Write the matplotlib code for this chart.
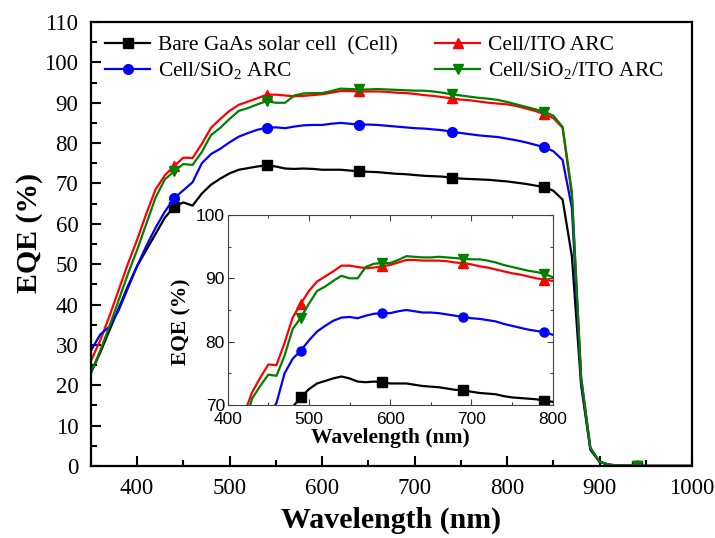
import numpy as np
import matplotlib
matplotlib.use("Agg")
from matplotlib import pyplot as plt
from matplotlib.ticker import MultipleLocator

plt.rcParams['font.family'] = ['Liberation Serif', 'DejaVu Serif']
plt.rcParams['mathtext.fontset'] = 'custom'
plt.rcParams['mathtext.rm'] = 'Liberation Serif'
plt.rcParams['mathtext.default'] = 'regular'

# Wavelength grid (nm)
wavelength = np.arange(350, 1001, 10)

# External quantum efficiency (%)
eqe_cell = [23.0, 28.0, 33.5, 39.0, 44.5, 49.5, 53.5, 57.5, 61.5, 64.2,
            65.3, 64.5, 67.5, 69.7, 71.2, 72.5, 73.4, 73.8, 74.2, 74.5,
            74.2, 73.7, 73.6, 73.7, 73.6, 73.4, 73.4, 73.4, 73.2, 73.0,
            72.9, 72.8, 72.6, 72.4, 72.3, 72.1, 71.9, 71.8, 71.7, 71.4,
            71.2, 71.1, 71.0, 70.9, 70.7, 70.5, 70.2, 69.9, 69.5, 69.1,
            68.2, 66.0, 52.0, 20.0, 4.0, 1.0, 0.3, 0.1, 0.0, 0.0,
            0.0, 0.0, 0.0, 0.0, 0.0, 0.0]
eqe_ito = [26.0, 31.0, 37.0, 43.5, 50.0, 56.0, 62.5, 68.5, 72.0, 74.3,
           76.4, 76.3, 79.8, 83.8, 86.0, 88.0, 89.5, 90.3, 91.1, 92.0,
           92.0, 91.8, 91.6, 91.7, 91.9, 92.1, 92.5, 92.9, 92.9, 92.8,
           92.8, 92.8, 92.7, 92.5, 92.4, 92.2, 91.9, 91.7, 91.4, 91.1,
           90.8, 90.6, 90.3, 90.0, 89.8, 89.6, 89.2, 88.6, 88.0, 87.2,
           86.2, 83.8, 67.0, 22.0, 4.5, 1.0, 0.3, 0.1, 0.1, 0.2,
           0.0, 0.0, 0.0, 0.0, 0.0, 0.0]
eqe_sio2 = [28.5, 32.5, 34.5, 38.5, 44.0, 49.5, 54.5, 59.0, 63.0, 66.3,
            68.3, 70.3, 75.0, 77.3, 78.6, 80.2, 81.6, 82.5, 83.3, 83.8,
            83.9, 83.7, 84.1, 84.4, 84.5, 84.5, 84.8, 85.0, 84.8, 84.6,
            84.6, 84.5, 84.3, 84.1, 83.9, 83.7, 83.6, 83.4, 83.2, 82.8,
            82.5, 82.2, 81.9, 81.7, 81.5, 81.1, 80.7, 80.2, 79.6, 79.0,
            78.0, 75.8, 64.0, 21.0, 4.3, 1.0, 0.3, 0.1, 0.0, 0.0,
            0.0, 0.0, 0.0, 0.0, 0.0, 0.0]
eqe_sio2_ito = [23.0, 28.5, 34.5, 41.0, 47.5, 53.5, 60.0, 66.5, 71.0, 73.0,
                74.8, 74.6, 77.8, 82.0, 83.8, 86.0, 88.0, 88.7, 89.6, 90.4,
                90.0, 90.0, 91.8, 92.3, 92.4, 92.4, 92.9, 93.5, 93.4, 93.3,
                93.3, 93.4, 93.3, 93.2, 93.1, 93.0, 93.0, 92.8, 92.5, 92.1,
                91.8, 91.5, 91.2, 91.0, 90.7, 90.2, 89.6, 89.0, 88.4, 87.8,
                86.8, 84.0, 68.0, 22.0, 4.5, 1.0, 0.3, 0.1, 0.1, 0.1,
                0.0, 0.0, 0.0, 0.0, 0.0, 0.0]

labels = ['Bare GaAs solar cell  (Cell)', 'Cell/ITO ARC',
          'Cell/SiO$_2$ ARC', 'Cell/SiO$_2$/ITO ARC']
series = [eqe_cell, eqe_ito, eqe_sio2, eqe_sio2_ito]
colors = ['black', 'red', 'blue', 'green']
markers = ['s', '^', 'o', 'v']

fig = plt.figure(figsize=(7.15, 5.38), dpi=100)
ax = fig.add_axes([0.127, 0.134, 0.841, 0.825])

lines = []
for y, c, m, lab in zip(series, colors, markers, labels):
    ln, = ax.plot(wavelength, y, color=c, marker=m, markersize=7,
                  markevery=(9, 10), linewidth=1.6, label=lab)
    lines.append(ln)

ax.set_xlim(350, 1000)
ax.set_ylim(0, 110)
ax.xaxis.set_major_locator(MultipleLocator(100))
ax.xaxis.set_minor_locator(MultipleLocator(50))
ax.yaxis.set_major_locator(MultipleLocator(10))
ax.yaxis.set_minor_locator(MultipleLocator(5))
ax.tick_params(which='both', direction='in', top=False, right=False,
               labelsize=16.5, width=1.5)
ax.tick_params(which='major', length=7)
ax.tick_params(axis='y', which='major', pad=9)
ax.tick_params(axis='x', which='major', pad=9)
ax.tick_params(which='minor', length=4)
for s in ax.spines.values():
    s.set_linewidth(1.6)
ax.set_xlabel('Wavelength (nm)', fontsize=21.5, fontweight='bold', labelpad=5)
ax.set_ylabel('EQE (%)', fontsize=21.5, fontweight='bold')
ax.yaxis.set_label_coords(-0.08, 0.525)

ax.legend([lines[0], lines[2], lines[1], lines[3]],
          [labels[0], labels[2], labels[1], labels[3]],
          ncol=2, loc='upper left', bbox_to_anchor=(0.024, 0.97),
          frameon=False, fontsize=15.5, handlelength=2.1, handletextpad=0.35,
          columnspacing=1.73, labelspacing=0.22, borderpad=0, borderaxespad=0)

# Zoomed view of the 400-800 nm plateau
ins = fig.add_axes([0.3185, 0.2472, 0.4543, 0.3532])
for y, c, m in zip(series, colors, markers):
    ins.plot(wavelength, y, color=c, marker=m, markersize=6.5,
             markevery=(14, 10), linewidth=1.6)
ins.set_xlim(400, 800)
ins.set_ylim(70, 100)
ins.xaxis.set_major_locator(MultipleLocator(100))
ins.xaxis.set_minor_locator(MultipleLocator(50))
ins.yaxis.set_major_locator(MultipleLocator(10))
ins.yaxis.set_minor_locator(MultipleLocator(5))
ins.tick_params(which='both', direction='in', top=True, right=True,
                width=0.8, color='#444444')
ins.tick_params(which='major', length=4, pad=2)
ins.tick_params(axis='x', which='major', pad=5)
ins.tick_params(which='minor', length=2.5)
for lab in ins.get_xticklabels() + ins.get_yticklabels():
    lab.set_family('Liberation Sans')
    lab.set_fontsize(12.5)
for s in ins.spines.values():
    s.set_linewidth(0.8)
    s.set_color('#444444')
ins.set_xlabel('Wavelength (nm)', fontsize=15.5, fontweight='bold', labelpad=0.5)
ins.set_ylabel('EQE (%)', fontsize=15.5, fontweight='bold')
ins.yaxis.set_label_coords(-0.112, 0.44)

fig.savefig('out.png', dpi=100)
